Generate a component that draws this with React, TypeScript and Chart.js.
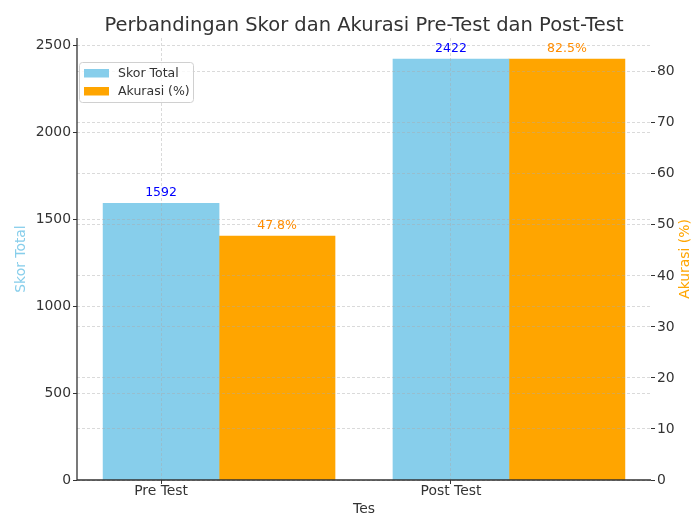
import React, { useEffect, useRef } from "react";
import { Chart, registerables } from "chart.js";

Chart.register(...registerables);

const categories = ["Pre Test", "Post Test"];
const skorTotal = [1592, 2422];
const akurasi = [47.8, 82.5];
const leftTicks = [0, 500, 1000, 1500, 2000, 2500];
const rightTicks = [0, 10, 20, 30, 40, 50, 60, 70, 80];
const seriesNames = ["Skor Total", "Akurasi (%)"];

const TITLE = "Perbandingan Skor dan Akurasi Pre-Test dan Post-Test";
const X_TITLE = "Tes";
const BAR_W = 0.4;
const FONT = "DejaVu Sans";
const TEXT = "#333333";
const BLUE = "#87CEEB";
const ORANGE = "#FFA500";
const GRID = "rgba(170,170,170,0.55)";

export default function App() {
  const ref = useRef<HTMLCanvasElement | null>(null);

  useEffect(() => {
    const canvas = ref.current;
    if (!canvas) return;

    const xMinData = -BAR_W / 2;
    const xMaxData = categories.length - 1 + BAR_W + BAR_W / 2;
    const xMargin = (xMaxData - xMinData) * 0.05;

    const overlay = {
      id: "overlay",
      afterDraw(chart: any) {
        const ctx = chart.ctx;
        const a = chart.chartArea;
        ctx.save();
        // spines
        ctx.strokeStyle = "#333";
        ctx.lineWidth = 1.3;
        ctx.beginPath();
        ctx.moveTo(a.left, a.top);
        ctx.lineTo(a.left, a.bottom);
        ctx.lineTo(a.right, a.bottom);
        ctx.stroke();

        // value labels
        ctx.textAlign = "center";
        ctx.textBaseline = "bottom";
        ctx.font = `12.5px "${FONT}"`;
        chart.data.datasets.forEach((ds: any, di: number) => {
          const meta = chart.getDatasetMeta(di);
          meta.data.forEach((el: any, i: number) => {
            const v = di === 0 ? skorTotal[i] : akurasi[i];
            const txt = di === 0 ? String(v) : v.toFixed(1) + "%";
            ctx.fillStyle = di === 0 ? "blue" : "darkorange";
            ctx.fillText(txt, el.x, el.y - 4);
          });
        });

        // title
        ctx.fillStyle = TEXT;
        ctx.font = `19.5px "${FONT}"`;
        ctx.textBaseline = "alphabetic";
        ctx.fillText(TITLE, (a.left + a.right) / 2, 31);

        // x title
        ctx.font = `13.9px "${FONT}"`;
        ctx.textBaseline = "middle";
        ctx.fillText(X_TITLE, (a.left + a.right) / 2, 509);

        // y titles
        const cy = (a.top + a.bottom) / 2;
        ctx.save();
        ctx.translate(21.5, cy);
        ctx.rotate(-Math.PI / 2);
        ctx.fillStyle = BLUE;
        ctx.fillText(seriesNames[0], 0, 0);
        ctx.restore();
        ctx.save();
        ctx.translate(685, cy);
        ctx.rotate(-Math.PI / 2);
        ctx.fillStyle = ORANGE;
        ctx.fillText(seriesNames[1], 0, 0);
        ctx.restore();

        // legend
        const lx = a.left + 2.5, ly = 62.5, lw = 114, lh = 40;
        ctx.beginPath();
        ctx.roundRect(lx, ly, lw, lh, 3);
        ctx.fillStyle = "rgba(255,255,255,0.8)";
        ctx.fill();
        ctx.strokeStyle = "#d0d0d0";
        ctx.lineWidth = 1;
        ctx.stroke();
        const colors = [BLUE, ORANGE];
        seriesNames.forEach((name, i) => {
          const y = 69 + i * 18;
          ctx.fillStyle = colors[i];
          ctx.fillRect(84, y, 25, 8.5);
          ctx.fillStyle = TEXT;
          ctx.font = `12.5px "${FONT}"`;
          ctx.textAlign = "left";
          ctx.textBaseline = "middle";
          ctx.fillText(name, 118, y + 4.5);
        });
        ctx.restore();
      },
    };

    const gridCommon = {
      color: GRID,
      lineWidth: 0.8,
      z: 1,
      offset: false,
      drawTicks: true,
      tickLength: 4,
      tickColor: "#333",
      tickWidth: 1,
      tickBorderDash: [],
    };
    const borderCommon = { display: false, dash: [3, 2] };
    const tickFont = { family: FONT, size: 13.9 };

    const chart = new Chart(canvas, {
      type: "bar",
      data: {
        datasets: [
          {
            label: seriesNames[0],
            data: skorTotal.map((v, i) => ({ x: i, y: v })),
            backgroundColor: BLUE,
            yAxisID: "y",
            xAxisID: "x",
            grouped: false,
            barPercentage: 1,
            categoryPercentage: 1,
          } as any,
          {
            label: seriesNames[1],
            data: akurasi.map((v, i) => ({ x: i + BAR_W, y: v })),
            backgroundColor: ORANGE,
            yAxisID: "y1",
            xAxisID: "x",
            grouped: false,
            barPercentage: 1,
            categoryPercentage: 1,
          } as any,
        ],
      },
      options: {
        responsive: false,
        animation: false,
        devicePixelRatio: 1,
        layout: { padding: { top: 38, left: 0, right: 0, bottom: 0 } },
        plugins: {
          legend: { display: false },
          title: { display: false },
          tooltip: { enabled: false },
        },
        scales: {
          x: {
            type: "linear",
            position: "bottom",
            offset: false,
            min: xMinData - xMargin,
            max: xMaxData + xMargin,
            afterBuildTicks: (s: any) => {
              s.ticks = categories.map((_, i) => ({ value: i }));
            },
            afterFit: (s: any) => {
              s.height = 36;
            },
            grid: gridCommon,
            border: borderCommon,
            ticks: {
              font: tickFont,
              color: TEXT,
              padding: -1,
              autoSkip: false,
              maxRotation: 0,
              callback: (v: any) => categories[v] ?? "",
            },
          },
          y: {
            type: "linear",
            position: "left",
            min: 0,
            max: Math.max(...skorTotal) * 1.05,
            afterBuildTicks: (s: any) => {
              s.ticks = leftTicks.map((v) => ({ value: v }));
            },
            afterFit: (s: any) => {
              s.width = 77;
            },
            grid: gridCommon,
            border: borderCommon,
            ticks: { font: tickFont, color: TEXT, padding: 2, callback: (v: any) => String(v) },
          },
          y1: {
            type: "linear",
            position: "right",
            min: 0,
            max: Math.max(...akurasi) * 1.05,
            afterBuildTicks: (s: any) => {
              s.ticks = rightTicks.map((v) => ({ value: v }));
            },
            afterFit: (s: any) => {
              s.width = 41;
            },
            grid: gridCommon,
            border: borderCommon,
            ticks: { font: tickFont, color: TEXT, padding: 2, callback: (v: any) => String(v) },
          },
        },
      } as any,
      plugins: [overlay],
    });

    return () => chart.destroy();
  }, []);

  return (
    <div style={{ position: "fixed", left: 0, top: 0, width: 692, height: 516, background: "#fff" }}>
      <canvas ref={ref} width={692} height={516} style={{ display: "block" }} />
    </div>
  );
}
